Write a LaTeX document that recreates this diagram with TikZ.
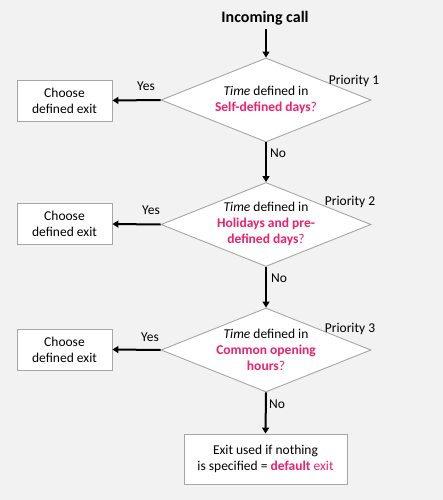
\documentclass[tikz,border=0pt]{standalone}
\usepackage{fontspec}
\setmainfont{Carlito}
\usetikzlibrary{arrows.meta,shapes.geometric}
\definecolor{bg}{HTML}{F2F2F2}
\definecolor{edge}{HTML}{A6A6A6}
\definecolor{hot}{HTML}{F0206E}
\begin{document}
\begin{tikzpicture}[x=1pt,y=-1pt,
  txt/.style={font=\fontsize{13.5}{16}\selectfont,align=center,inner sep=0pt},
  box/.style={draw=edge,fill=white,line width=0.9pt,minimum width=95pt,minimum height=41pt,txt},
  decision/.style={diamond,draw=edge,fill=white,line width=0.9pt,minimum width=210pt,minimum height=84pt,aspect=2.5,inner sep=0pt},
  flow/.style={-{Triangle[length=6pt,width=7pt]},line width=2pt,black},
  lbl/.style={txt,anchor=base}]
\useasboundingbox[fill=bg] (0,0) rectangle (443,500);
\node[font=\fontsize{16}{19}\selectfont\bfseries,inner sep=0pt] (start) at (265,18) {Incoming call};
\node[decision] (d1) at (266,100) {};
\node[decision] (d2) at (266,224.5) {};
\node[decision] (d3) at (266,350) {};
\node[txt] (t1) at (266,100) {\textit{Time} defined in\\\textcolor{hot}{\textbf{Self-defined days}?}};
\node[txt] (t2) at (266,223.5) {\textit{Time} defined in\\\textcolor{hot}{\textbf{Holidays and pre-}}\\\textcolor{hot}{\textbf{defined days}?}};
\node[txt] (t3) at (266,349.5) {\textit{Time} defined in\\\textcolor{hot}{\textbf{Common opening}}\\\textcolor{hot}{\textbf{hours}?}};
\node[box] (b1) at (64.5,100.5) {Choose\\defined exit};
\node[box] (b2) at (64.5,224) {Choose\\defined exit};
\node[box] (b3) at (64.5,349.5) {Choose\\defined exit};
\node[box,minimum width=163pt,minimum height=50pt] (b4) at (265.5,459) {Exit used if nothing\\is specified = \textcolor{hot}{\textbf{default} exit}};
\draw[flow,shorten <=4pt] (start.south -| d1.north) -- (d1.north);
\draw[flow] (d1.west) -- (b1.east);
\draw[flow] (d2.west) -- (b2.east);
\draw[flow] (d3.west) -- (b3.east);
\draw[flow] (d1.south) -- (d2.north);
\draw[flow] (d2.south) -- (d3.north);
\draw[flow] (d3.south) -- (b4.north);
\node[lbl] (y1) at (146,91) {Yes};
\node[lbl] (y2) at (151,214) {Yes};
\node[lbl] (y3) at (150,341) {Yes};
\node[lbl] (n1) at (278,157) {No};
\node[lbl] (n2) at (279,282) {No};
\node[lbl] (n3) at (277,408) {No};
\node[lbl] (p1) at (354,85) {Priority 1};
\node[lbl] (p2) at (350,205) {Priority 2};
\node[lbl] (p3) at (350,332) {Priority 3};
\end{tikzpicture}
\end{document}
